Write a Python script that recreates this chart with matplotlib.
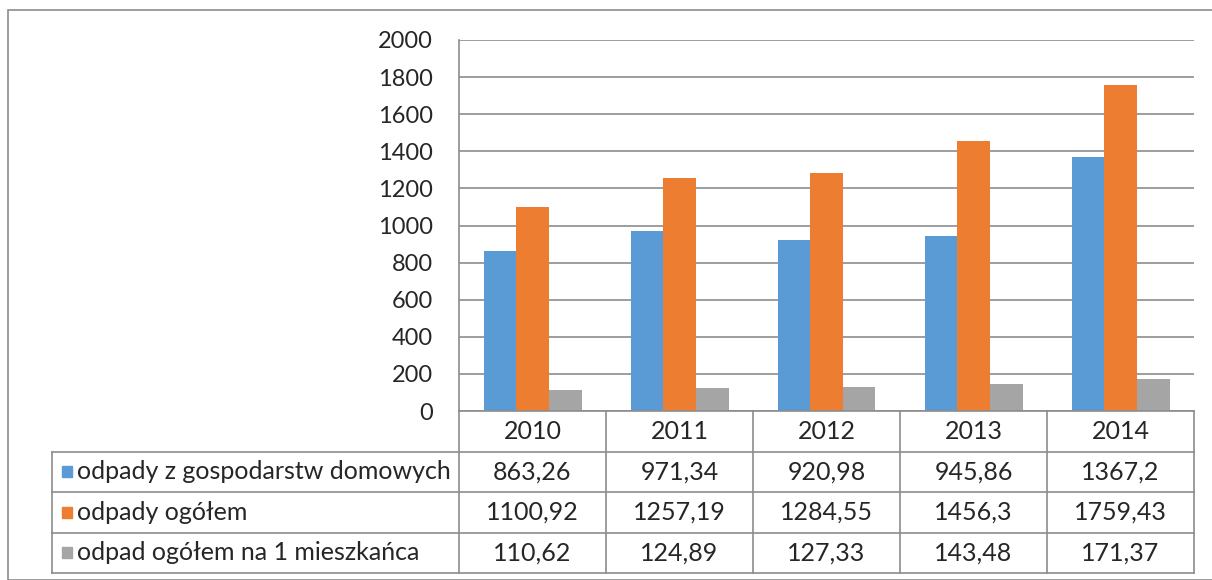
import matplotlib.pyplot as plt
from matplotlib.patches import Rectangle
from matplotlib.lines import Line2D

plt.rcParams['font.family'] = ['Lato', 'DejaVu Sans']

lata = ['2010', '2011', '2012', '2013', '2014']
domowe = [863.26, 971.34, 920.98, 945.86, 1367.2]
ogolem = [1100.92, 1257.19, 1284.55, 1456.3, 1759.43]
na_mieszkanca = [110.62, 124.89, 127.33, 143.48, 171.37]

serie = [
    ('odpady z gospodarstw domowych', domowe, '#5B9BD5'),
    ('odpady ogółem', ogolem, '#ED7D31'),
    ('odpad ogółem na 1 mieszkańca', na_mieszkanca, '#A5A5A5'),
]

W, H = 1212, 580
fig = plt.figure(figsize=(W / 100, H / 100), dpi=100)
fig.patch.set_facecolor('white')
tekst = '#262626'
fs = 18

# ramka obszaru wykresu
fig.add_artist(Rectangle((8 / W, 0), 1.2, (H - 10) / H, transform=fig.transFigure,
                         fill=False, edgecolor='#8c8c8c', lw=1.2))

# os z wykresem slupkowym
x0, x1 = 459, 1194
y_top, y_zero = 40, 411
ax = fig.add_axes([x0 / W, (H - y_zero) / H, (x1 - x0) / W, (y_zero - y_top) / H])
n = len(lata)
szer = 1 / 4.5  # przerwa 150%
for i, (nazwa, wart, kolor) in enumerate(serie):
    pozycje = [k + 0.5 + (i - 1) * szer for k in range(n)]
    ax.bar(pozycje, wart, width=szer, color=kolor, zorder=3)

ax.set_xlim(0, n)
ax.set_ylim(0, 2000)
ax.set_yticks(range(0, 2001, 200))
ax.set_xticks([])
ax.grid(axis='y', color='#8c8c8c', lw=1.2, zorder=0)
for s in ['top', 'right', 'bottom']:
    ax.spines[s].set_visible(False)
ax.spines['left'].set_color('#8c8c8c')
ax.spines['left'].set_linewidth(1.2)
ax.tick_params(axis='y', length=0, pad=19, labelsize=17, labelcolor=tekst)

# tabela danych pod wykresem
t_left, t_bottom = 52, 573
kol = (x1 - x0) / n
lab_w = (x0 - t_left) / kol
tax = fig.add_axes([t_left / W, (H - t_bottom) / H, (x1 - t_left) / W, (t_bottom - y_zero) / H])
tax.set_xlim(-lab_w, n)
tax.set_ylim(4, 0)
tax.axis('off')

kl = dict(color='#8c8c8c', lw=1.2, clip_on=False)
# linie poziome
tax.add_line(Line2D([0, n], [0, 0], **kl))
for r in range(1, 5):
    tax.add_line(Line2D([-lab_w, n], [r, r], **kl))
# linie pionowe
tax.add_line(Line2D([-lab_w, -lab_w], [1, 4], **kl))
for c in range(n + 1):
    tax.add_line(Line2D([c, c], [0, 4], **kl))

for c, rok in enumerate(lata):
    tax.text(c + 0.5, 0.5, rok, ha='center', va='center', fontsize=fs, color=tekst)

kw = 10 / kol
for r, (nazwa, wart, kolor) in enumerate(serie, start=1):
    tax.add_patch(Rectangle((-lab_w + 10 / kol, r + 0.37), kw, 0.26, color=kolor, clip_on=False))
    tax.text(-lab_w + 25 / kol, r + 0.5, nazwa, ha='left', va='center', fontsize=fs, color=tekst)
    for c, v in enumerate(wart):
        tax.text(c + 0.5, r + 0.5, str(v).replace('.', ','), ha='center', va='center',
                 fontsize=fs, color=tekst)

plt.savefig('out.png', dpi=100)
